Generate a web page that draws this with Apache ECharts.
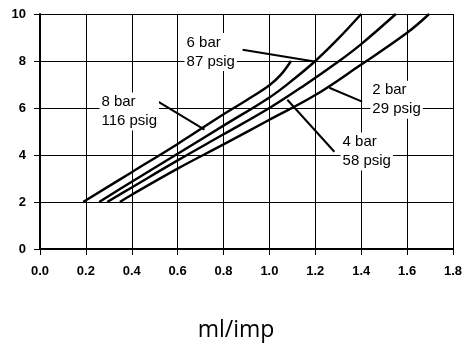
<!DOCTYPE html>
<html><head><meta charset="utf-8">
<script src="https://cdn.jsdelivr.net/npm/echarts@6/dist/echarts.min.js"></script>
<style>html,body{margin:0;padding:0;background:#fff}#c{width:465px;height:344px}</style>
</head><body><div id="c"></div>
<script>
// Curves: [ml/imp, y]
const bar8 = [[0.188,2],[0.4,3.27],[0.6,4.47],[0.8,5.73],[0.9,6.33],[1.0,6.97],[1.05,7.42],[1.094,8.0]];
const bar6 = [[0.258,2],[0.4,2.86],[0.6,4.05],[0.8,5.25],[1.0,6.45],[1.1,7.18],[1.2,8.0],[1.3,8.95],[1.40,10]];
const bar4 = [[0.293,2],[0.4,2.62],[0.6,3.77],[0.8,4.88],[1.0,6.0],[1.15,6.95],[1.304,8.0],[1.4,8.72],[1.551,10]];
const bar2 = [[0.348,2],[0.4,2.31],[0.6,3.42],[0.8,4.45],[1.0,5.5],[1.2,6.55],[1.4,7.85],[1.6,9.2],[1.696,10]];
const seriesNames = ['8 bar','6 bar','4 bar','2 bar'];
// Annotation labels and leader lines (data coords)
const labelTexts = ['8 bar\n116 psig','6 bar\n87 psig','4 bar\n58 psig','2 bar\n29 psig'];
const labelAnchors = [[0.259,5.85],[0.630,8.38],[1.310,4.15],[1.440,6.35]];
const leaders = [
  [[0.513,6.28],[0.717,5.08]],
  [[0.883,8.48],[1.196,7.98]],
  [[1.078,6.35],[1.283,4.14]],
  [[1.261,6.86],[1.404,6.27]]
];
const xMin = 0, xMax = 1.8, xStep = 0.2;
const yMin = 0, yMax = 10, yStep = 2;
const xTitle = 'ml/imp';

const chart = echarts.init(document.getElementById('c'), null, {renderer:'canvas'});
const curves = [bar8, bar6, bar4, bar2];
const series = curves.map((d,i)=>({
  name: seriesNames[i], type:'line', data:d, showSymbol:false, symbol:'none',
  smooth:0.4,
  lineStyle:{color:'#000', width:2.4}, silent:true, animation:false,
  markLine:{silent:true, symbol:'none', animation:false, label:{show:false},
    lineStyle:{color:'#000', width:2, type:'solid'},
    data:[[{coord:leaders[i][0]},{coord:leaders[i][1]}]]}
}));
const axisCommon = {
  axisLine:{show:true, onZero:false, lineStyle:{color:'#000', width:2}},
  axisTick:{show:true, inside:false, length:6, lineStyle:{color:'#000', width:1}},
  splitLine:{show:true, lineStyle:{color:'#000', width:1}},
  axisLabel:{color:'#000', fontFamily:'Liberation Sans, Arial, sans-serif', fontWeight:'bold', fontSize:13}
};
chart.setOption({
  animation:false,
  backgroundColor:'#fff',
  grid:{left:40, right:11, top:14, bottom:95, containLabel:false},
  xAxis:Object.assign({type:'value', min:xMin, max:xMax, interval:xStep}, axisCommon,
    {axisLabel:Object.assign({}, axisCommon.axisLabel, {margin:16, formatter:v=>v.toFixed(1)})}),
  yAxis:Object.assign({type:'value', min:yMin, max:yMax, interval:yStep}, axisCommon,
    {axisLabel:Object.assign({}, axisCommon.axisLabel, {margin:14})}),
  series: series
});
const g = labelTexts.map((t,i)=>{
  const p = chart.convertToPixel({gridIndex:0}, labelAnchors[i]);
  return {type:'text', x:p[0], y:p[1], z:100, silent:true,
    style:{text:t, fill:'#000', font:'15px "Liberation Sans", Arial, sans-serif',
      align:'left', verticalAlign:'middle', lineHeight:19, backgroundColor:'#fff', padding:[0,2]}};
});
g.push({type:'text', x:236, y:330, silent:true,
  style:{text:xTitle, fill:'#000', font:'23px "Open Sans", sans-serif', align:'center', verticalAlign:'middle'}});
chart.setOption({graphic:g});
</script></body></html>
